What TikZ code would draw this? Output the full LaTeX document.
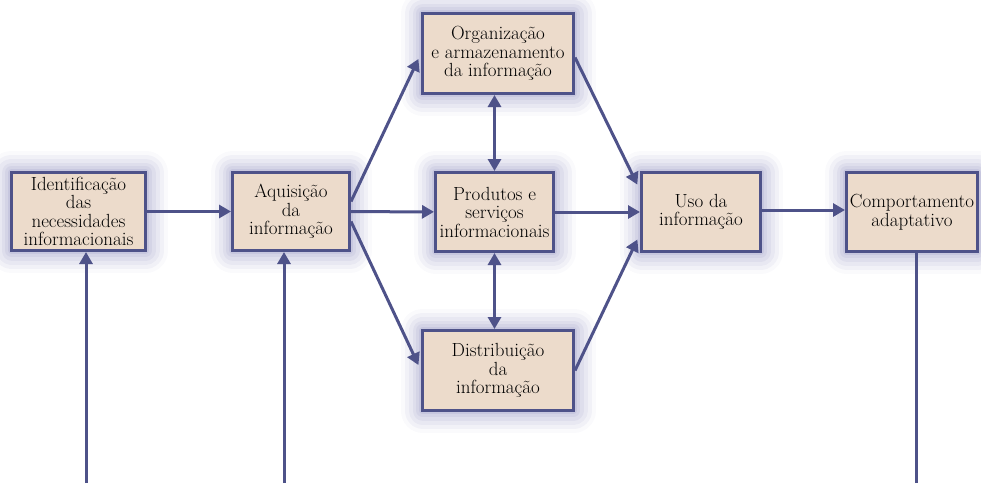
\documentclass[tikz,border=0pt]{standalone}
\usepackage{tikz}
\usetikzlibrary{arrows.meta}

\definecolor{boxline}{RGB}{78,82,137}
\definecolor{boxfill}{RGB}{236,219,203}
\definecolor{glow}{RGB}{90,90,160}

\begin{document}
\begin{tikzpicture}
	[x=1pt, y=-1pt,
	 box/.style={draw=boxline, line width=3pt, fill=boxfill, align=center, inner sep=1pt, font=\fontsize{19}{18.5}\selectfont,
	  preaction={draw=glow, line width=44pt, line join=round, opacity=0.03},
	  preaction={draw=glow, line width=36pt, line join=round, opacity=0.05},
	  preaction={draw=glow, line width=28pt, line join=round, opacity=0.06},
	  preaction={draw=glow, line width=20pt, line join=round, opacity=0.07},
	  preaction={draw=glow, line width=13pt, line join=round, opacity=0.08},
	  preaction={draw=glow, line width=7pt, line join=round, opacity=0.1}},
	 link/.style={draw=boxline, line width=3pt, -{Triangle[length=12pt,width=13pt]}},
	 both/.style={link, {Triangle[length=12pt,width=13pt]}-{Triangle[length=12pt,width=13pt]}},
	 feed/.style={draw=boxline, line width=3pt}]
	\useasboundingbox (0,0) rectangle (981,483);
	\node (ident) [box, minimum width=134pt, minimum height=78pt] at (78.5,211.5) {Identificação\\das\\necessidades\\informacionais};\node (aquis) [box, minimum width=117pt, minimum height=78pt] at (291,211.5) {Aquisição\\da\\informação};\node (org) [box, minimum width=151pt, minimum height=80pt] at (498,53.5) {Organização\\e armazenamento\\da informação};\node (prod) [box, minimum width=118pt, minimum height=79pt] at (494.5,212) {Produtos e\\serviços\\informacionais};\node (dist) [box, minimum width=151pt, minimum height=80pt] at (498,370.5) {Distribuição\\da\\informação};\node (uso) [box, minimum width=119pt, minimum height=79pt] at (701,212) {Uso da\\informação};\node (comp) [box, minimum width=131pt, minimum height=79pt] at (912,212) {Comportamento\\adaptativo};
	
	\coordinate (in1) at (86,483);
	\coordinate (in2) at (284,483);
	\coordinate (out) at (916,483);
	
	\draw[link] (ident) -- (aquis);
	\draw[link] (aquis) -- (prod);
	\draw[link, shorten >=6pt] ([yshift=10pt]aquis.east) -- (org.west);
	\draw[link, shorten >=6pt] ([yshift=-10pt]aquis.east) -- (dist.west);
	\draw[both] (prod.north |- org.south) -- (prod.north);
	\draw[both] (prod.south) -- (prod.south |- dist.north);
	\draw[link, shorten >=6pt] ([yshift=-4pt]org.east) -- ([yshift=22pt]uso.west);
	\draw[link] (prod) -- (uso);
	\draw[link, shorten >=6pt] (dist.east) -- ([yshift=-22pt]uso.west);
	\draw[link] ([yshift=2pt]uso.east) -- ([yshift=2pt]comp.west);
	\draw[link] (in1) -- (in1 |- ident.south);
	\draw[link] (in2) -- (in2 |- aquis.south);
	\draw[feed] (out) -- (out |- comp.south);
\end{tikzpicture}
\end{document}
